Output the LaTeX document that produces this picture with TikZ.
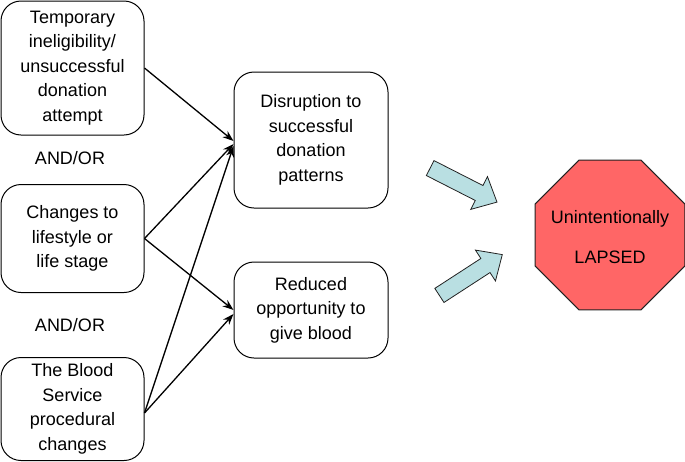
\documentclass[tikz,border=0pt]{standalone}
\usepackage{fontspec}
\setmainfont{Liberation Sans}
\usepackage{xcolor}
\usepackage{tikz}
\usetikzlibrary{positioning, arrows.meta, shapes.geometric, shapes.arrows}
\definecolor{stopred}{HTML}{FF6666}
\definecolor{palecyan}{HTML}{B9DFE2}
\definecolor{darkline}{HTML}{222222}

\begin{document}
\begin{tikzpicture}[x=1pt, y=-1pt,
  box/.style={draw, rounded corners=20pt, line width=1pt, align=center, inner sep=0pt, minimum width=143pt},
  link/.style={-{Stealth[length=11pt, width=8pt]}, line width=1.3pt},
  fat/.style={single arrow, draw=darkline, fill=palecyan, line width=0.8pt, inner sep=8pt,
    single arrow head extend=10pt, single arrow tip angle=85, minimum height=75pt},
  every node/.style={font=\fontsize{18}{24.5}\selectfont}]
  \useasboundingbox (0,0) rectangle (685,461);
  % causes
  \node[box, minimum height=134pt] (tmp) at (72.5,68) {Temporary\\ineligibility/\\unsuccessful\\donation\\attempt};
  \node (or1) at (70,158) {AND/OR};
  \node[box, minimum height=108pt] (life) at (72.5,238.5) {Changes to\\lifestyle or\\life stage};
  \node (or2) at (70,325) {AND/OR};
  \node[box, minimum height=103pt] (proc) at (72.5,409) {The Blood\\Service\\procedural\\changes};
  % effects
  \node[box, minimum width=154pt, minimum height=136pt] (disr) at (311,140) {Disruption to\\successful\\donation\\patterns};
  \node[box, minimum width=154pt, minimum height=96pt] (redu) at (311,310) {Reduced\\opportunity to\\give blood};
  % links
  \draw[link] (tmp.east) -- ([yshift=-1pt]disr.west);
  \draw[link] (life.east) -- ([yshift=-4pt]disr.west);
  \draw[link] (life.east) -- (redu.west);
  \draw[link] ([yshift=-4pt]proc.east) -- ([yshift=-6pt]disr.west);
  \draw[link] ([yshift=-4pt]proc.east) -- ([yshift=-4pt]redu.west);
  % outcome
  \node[fat, rotate=-27] (up) at (459.5,183) {};
  \node[fat, rotate=33] (down) at (467,277.5) {};
  \node[regular polygon, regular polygon sides=8, draw=darkline, fill=stopred, line width=1pt,
    minimum size=162pt, inner sep=0pt,
    label={[align=center, yshift=-2pt]center:Unintentionally\\[15pt]LAPSED}] (lapsed) at (610,235) {};
\end{tikzpicture}
\end{document}
